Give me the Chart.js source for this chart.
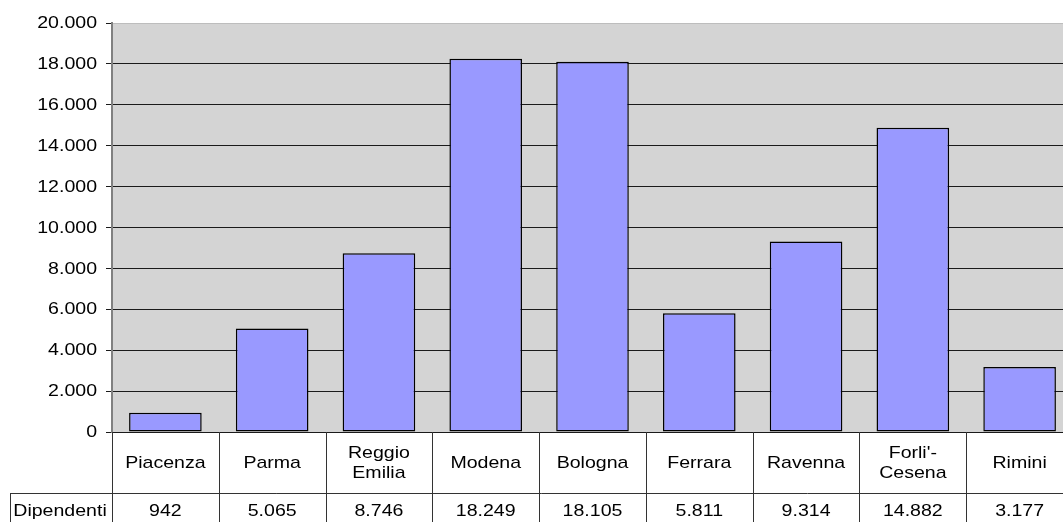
<!DOCTYPE html>
<html>
<head>
<meta charset="utf-8">
<script src="https://cdn.jsdelivr.net/npm/chart.js@4/dist/chart.umd.min.js"></script>
<style>
  html, body { margin: 0; padding: 0; overflow: hidden; background: #fff; }
  #wrap { width: 1063px; height: 522px; overflow: hidden; }
  canvas { display: block; }
</style>
</head>
<body>
<div id="wrap"><canvas id="c" width="1073" height="522"></canvas></div>
<script>
const categories = ['Piacenza', 'Parma', ['Reggio', 'Emilia'], 'Modena', 'Bologna', 'Ferrara', 'Ravenna', ["Forli'-", 'Cesena'], 'Rimini'];
const seriesName = 'Dipendenti';
const dipendenti = [942, 5065, 8746, 18249, 18105, 5811, 9314, 14882, 3177];
const yTickLabels = ['0', '2.000', '4.000', '6.000', '8.000', '10.000', '12.000', '14.000', '16.000', '18.000', '20.000'];

const FONT = '17px "Liberation Sans", Arial, sans-serif';
const SX = 1.15;

function fmt(v) { return String(v).replace(/\B(?=(\d{3})+(?!\d))/g, '.'); }
function txt(ctx, s, x, y, align) {
  ctx.save();
  ctx.translate(x, y);
  ctx.scale(SX, 1);
  ctx.textAlign = align;
  ctx.textBaseline = 'middle';
  ctx.fillText(s, 0, 0);
  ctx.restore();
}

const plotBg = {
  id: 'plotBg',
  beforeDraw(chart) {
    const { ctx, chartArea: a } = chart;
    ctx.save();
    ctx.fillStyle = '#D4D4D4';
    ctx.fillRect(a.left, a.top, a.right - a.left, a.bottom - a.top);
    ctx.restore();
  }
};

const tablePlugin = {
  id: 'dataTable',
  afterDraw(chart) {
    const { ctx, chartArea: a } = chart;
    const xs = chart.scales.x, ys = chart.scales.y;
    const catW = xs.getPixelForValue(1) - xs.getPixelForValue(0);
    const top = a.bottom, rowSplit = 493, bottom = 530;
    ctx.save();
    ctx.fillStyle = '#000';
    ctx.font = FONT;
    // y tick labels
    ys.ticks.forEach((t, i) => {
      const y = ys.getPixelForValue(t.value);
      const lbl = yTickLabels[Math.round(t.value / 2000)];
      txt(ctx, lbl, 97, y + 0.5, 'right');
    });
    // table lines
    ctx.strokeStyle = '#333';
    ctx.lineWidth = 1;
    ctx.beginPath();
    for (let i = 0; i <= categories.length; i++) {
      const x = Math.round(xs.getPixelForValue(0) - catW / 2 + i * catW) + 0.5;
      ctx.moveTo(x, top);
      ctx.lineTo(x, bottom);
    }
    ctx.moveTo(10.5, rowSplit + 0.5);
    ctx.lineTo(a.right, rowSplit + 0.5);
    ctx.moveTo(10.5, rowSplit);
    ctx.lineTo(10.5, bottom);
    ctx.stroke();
    // category labels
    categories.forEach((c, i) => {
      const x = xs.getPixelForValue(i);
      const lines = Array.isArray(c) ? c : [c];
      const lh = 20;
      const cy = (top + rowSplit) / 2 + 1;
      lines.forEach((l, j) => {
        txt(ctx, l, x, cy + (j - (lines.length - 1) / 2) * lh, 'center');
      });
    });
    // values row
    txt(ctx, seriesName, 60, 511, 'center');
    dipendenti.forEach((v, i) => {
      txt(ctx, fmt(v), xs.getPixelForValue(i), 511, 'center');
    });
    ctx.restore();
  }
};

new Chart(document.getElementById('c'), {
  type: 'bar',
  data: {
    labels: categories,
    datasets: [{
      label: seriesName,
      data: dipendenti,
      backgroundColor: '#9999FF',
      borderColor: '#000',
      borderWidth: 1.5,
      borderSkipped: false,
      barPercentage: 0.68,
      categoryPercentage: 1
    }]
  },
  options: {
    responsive: false,
    devicePixelRatio: 1,
    animation: false,
    events: [],
    layout: { padding: { top: 23, right: 0, left: 0, bottom: 0 } },
    plugins: { legend: { display: false }, tooltip: { enabled: false } },
    scales: {
      x: {
        grid: { display: false },
        border: { display: false },
        ticks: { display: false },
        afterFit(s) { s.height = 90; }
      },
      y: {
        min: 0, max: 20000,
        ticks: { display: false, stepSize: 2000 },
        border: { display: true, color: '#808080', width: 2 },
        grid: {
          color: (c) => (c.tick && c.tick.value === 20000) ? '#BDBDBD' : '#1a1a1a',
          tickColor: '#1a1a1a',
          lineWidth: 1,
          drawTicks: true,
          tickLength: 6
        },
        afterFit(s) { s.width = 112; }
      }
    }
  },
  plugins: [plotBg, tablePlugin]
});
</script>
</body>
</html>
